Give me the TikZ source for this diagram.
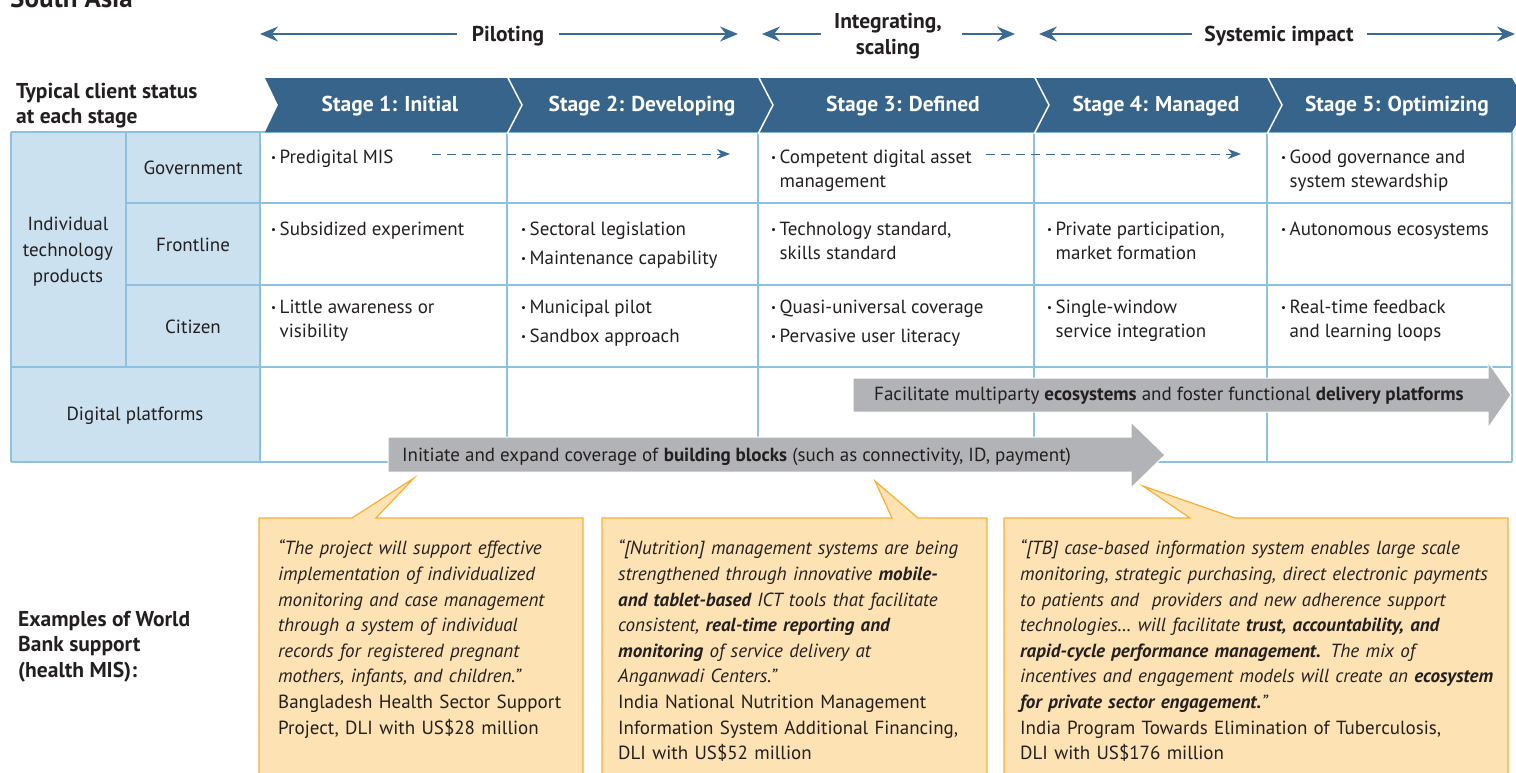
\documentclass[tikz,border=0pt]{standalone}
\usepackage{fontspec}
\setmainfont{PT Sans}
\usetikzlibrary{arrows.meta}

\definecolor{bannerblue}{HTML}{36648B}
\definecolor{headfill}{HTML}{CCE1EF}
\definecolor{gridblue}{HTML}{8EC1E0}
\definecolor{arrowblue}{HTML}{3B6A95}
\definecolor{bargray}{HTML}{B1B3B6}
\definecolor{notefill}{HTML}{FDE2B4}
\definecolor{noteline}{HTML}{F6B031}
\definecolor{inkdark}{HTML}{231F20}

% bullet and hanging indent for the table cells
\newcommand{\bul}{\makebox[8.5pt][l]{\raisebox{2pt}{\fontsize{11}{11}\selectfont\textbullet}}}
\newcommand{\hang}{\hspace*{8.5pt}}

\begin{document}
\begin{tikzpicture}[x=1pt, y=-1pt,
    font=\fontsize{19}{24.5}\selectfont,
    every node/.style={text=inkdark, inner sep=0pt},
    bold/.style={font=\fontsize{21.5}{25.5}\selectfont\bfseries},
    stagelbl/.style={text=white, font=\fontsize{21.5}{25}\selectfont\bfseries},
    cell/.style={anchor=north west, align=left},
    quote/.style={anchor=north west, align=left, text width=#1,
                  font=\fontsize{19}{25.6}\selectfont},
    phase/.style={draw=arrowblue, line width=1.4pt,
                  -{Stealth[length=18pt, width=15pt, inset=6pt]}},
    dasharr/.style={draw=arrowblue, line width=1pt, dash pattern=on 9pt off 6pt,
                    -{Stealth[length=13pt, width=10pt, inset=4pt]}},
    gridline/.style={draw=gridblue, line width=1.3pt},
    bar/.style={fill=bargray, draw=white, line width=1pt},
    note/.style={fill=notefill, draw=noteline, line width=1.2pt, line join=miter}]

  \useasboundingbox (0,0) rectangle (1516,772);

  % region title
  \node[anchor=base west, font=\fontsize{27}{30}\selectfont\bfseries] (region) at (10,7) {South Asia};

  % phases along the top
  \node[bold] (pil) at (508,36) {Piloting};
  \node[bold, align=center] (intg) at (888,36) {Integrating,\\scaling};
  \node[bold] (sys) at (1279,36) {Systemic impact};
  \coordinate (pilL) at (260,34);
  \coordinate (pilR) at (738,34);
  \coordinate (intL) at (762,34);
  \coordinate (intR) at (1015,34);
  \coordinate (sysL) at (1039,34);
  \coordinate (sysR) at (1515,34);
  \draw[phase, shorten <=15pt] (pil.west |- pilL) -- (pilL);
  \draw[phase, shorten <=15pt] (pil.east |- pilR) -- (pilR);
  \draw[phase, shorten <=13pt] (intg.west |- intL) -- (intL);
  \draw[phase, shorten <=20pt] (intg.east |- intR) -- (intR);
  \draw[phase, shorten <=12pt] (sys.west |- sysL) -- (sysL);
  \draw[phase, shorten <=13pt] (sys.east |- sysR) -- (sysR);

  \node[bold, cell] (status) at (16,83) {Typical client status\\at each stage};

  % table: header cells and grid
  \fill[headfill] (11,132) rectangle (260,462);
  \draw[gridline] (11,132) -- (1512,132);
  \draw[gridline] (126,203) -- (1512,203);
  \draw[gridline] (126,285) -- (1512,285);
  \draw[gridline] (11,367) -- (1512,367);
  \draw[gridline] (11,462) -- (1512,462);
  \draw[gridline] (11,132) -- (11,462);
  \draw[gridline] (126,132) -- (126,367);
  \draw[gridline] (260,132) -- (260,462);
  \draw[gridline] (507,132) -- (507,462);
  \draw[gridline] (758,132) -- (758,462);
  \draw[gridline] (1034,132) -- (1034,462);
  \draw[gridline] (1267,132) -- (1267,462);
  \draw[gridline] (1512,132) -- (1512,462);

  % stage banner
  \fill[bannerblue] (265,78) -- (1512,78) -- (1527,105) -- (1512,132)
                    -- (265,132) -- (278,105) -- cycle;
  \draw[white, line width=1.5pt] (507,76) -- (522,105) -- (507,134);
  \draw[white, line width=1.5pt] (758,76) -- (773,105) -- (758,134);
  \draw[white, line width=1.5pt] (1034,76) -- (1049,105) -- (1034,134);
  \draw[white, line width=1.5pt] (1267,76) -- (1282,105) -- (1267,134);
  \node[stagelbl] (st1) at (390,106) {Stage 1: Initial};
  \node[stagelbl] (st2) at (642,106) {Stage 2: Developing};
  \node[stagelbl] (st3) at (903,106) {Stage 3: Defined};
  \node[stagelbl] (st4) at (1156,106) {Stage 4: Managed};
  \node[stagelbl] (st5) at (1397,106) {Stage 5: Optimizing};

  % row headers
  \node[align=center, font=\fontsize{19}{26}\selectfont] (itp) at (68,252) {Individual\\technology\\products};
  \node (gov) at (193,168) {Government};
  \node (front) at (193,245) {Frontline};
  \node (cit) at (193,327) {Citizen};
  \node (dig) at (135,416) {Digital platforms};

  % government row
  \node[cell] (gov1) at (271,149.5) {\bul Predigital MIS};
  \node[cell] (gov3) at (771,149.5) {\bul Competent digital asset\\\hang management};
  \node[cell] (gov5) at (1281,149.5) {\bul Good governance and\\\hang system stewardship};
  \coordinate (gov2e) at (730,154);
  \coordinate (gov4e) at (1241,154);
  \draw[dasharr, shorten <=38pt] (gov1.east |- gov2e) -- (gov2e);
  \draw[dasharr] ([xshift=14pt]gov3.north east |- gov4e) -- (gov4e);

  % frontline row
  \node[cell] (front1) at (271,221.5) {\bul Subsidized experiment};
  \node[cell] (front2) at (521,221.5) {\bul Sectoral legislation\\[5pt]\bul Maintenance capability};
  \node[cell] (front3) at (771,221.5) {\bul Technology standard,\\\hang skills standard};
  \node[cell] (front4) at (1047,221.5) {\bul Private participation,\\\hang market formation};
  \node[cell] (front5) at (1281,221.5) {\bul Autonomous ecosystems};

  % citizen row
  \node[cell] (cit1) at (271,299.5) {\bul Little awareness or\\\hang visibility};
  \node[cell] (cit2) at (521,299.5) {\bul Municipal pilot\\[5pt]\bul Sandbox approach};
  \node[cell] (cit3) at (771,299.5) {\bul Quasi-universal coverage\\[5pt]\bul Pervasive user literacy};
  \node[cell] (cit4) at (1047,299.5) {\bul Single-window\\\hang service integration};
  \node[cell] (cit5) at (1281,299.5) {\bul Real-time feedback\\\hang and learning loops};

  % digital platforms row
  \filldraw[bar] (853,378) -- (1488,378) -- (1488,362) -- (1511,395)
                 -- (1488,428) -- (1488,412) -- (853,412) -- cycle;
  \node[anchor=west] (eco) at (874,396)
    {Facilitate multiparty \textbf{ecosystems} and foster functional \textbf{delivery platforms}};
  \filldraw[bar] (388,437) -- (1131,437) -- (1131,422) -- (1165,455)
                 -- (1131,488) -- (1131,472) -- (388,472) -- cycle;
  \node[anchor=west] (blocks) at (402,457)
    {Initiate and expand coverage of \textbf{building blocks} (such as connectivity, ID, payment)};

  % examples
  \node[bold, cell] (examples) at (18,611) {Examples of World\\Bank support\\(health MIS):};

  \filldraw[note] (259,518) -- (352,518) -- (414,478) -- (376,518) -- (583,518)
                  -- (583,800) -- (259,800) -- cycle;
  \node[quote=300pt] (bgd) at (278,540)
    {{\itshape “The project will support effective\\implementation of individualized\\monitoring and case management\\through a system of individual\\records for registered pregnant\\mothers, infants, and children.”}\\Bangladesh Health Sector Support\\Project, DLI with US\$28 million};

  \filldraw[note] (602,518) -- (892,518) -- (875,481) -- (918,518) -- (987,518)
                  -- (987,800) -- (602,800) -- cycle;
  \node[quote=360pt] (ind) at (618,540)
    {{\itshape “[Nutrition] management systems are being\\strengthened through innovative \textbf{mobile-}\\\textbf{and tablet-based} ICT tools that facilitate\\consistent, \textbf{real-time reporting and}\\\textbf{monitoring} of service delivery at\\Anganwadi Centers.”}\\India National Nutrition Management\\Information System Additional Financing,\\DLI with US\$52 million};

  \filldraw[note] (1004,518) -- (1190,518) -- (1143,486) -- (1235,518) -- (1508,518)
                  -- (1508,800) -- (1004,800) -- cycle;
  \node[quote=480pt] (tb) at (1020,540)
    {{\itshape “[TB] case-based information system enables large scale\\monitoring, strategic purchasing, direct electronic payments\\to patients and\ \ providers and new adherence support\\technologies\ldots\ will facilitate \textbf{trust, accountability, and}\\\textbf{rapid-cycle performance management.} The mix of\\incentives and engagement models will create an \textbf{ecosystem}\\\textbf{for private sector engagement.}”}\\India Program Towards Elimination of Tuberculosis,\\DLI with US\$176 million};
\end{tikzpicture}
\end{document}
